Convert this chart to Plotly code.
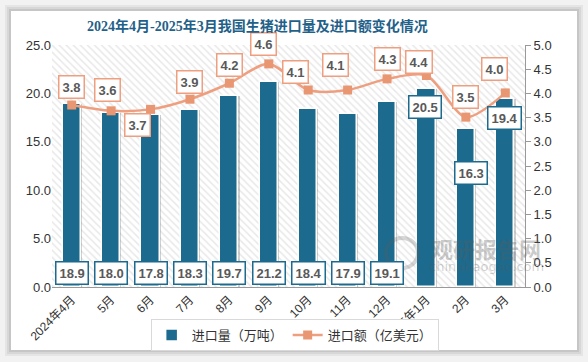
import plotly.graph_objects as go

categories = ["2024年4月", "5月", "6月", "7月", "8月", "9月", "10月", "11月", "12月", "2025年1月", "2月", "3月"]
import_volume = [18.9, 18.0, 17.8, 18.3, 19.7, 21.2, 18.4, 17.9, 19.1, 20.5, 16.3, 19.4]   # 万吨
import_value = [3.76, 3.64, 3.67, 3.88, 4.21, 4.61, 4.07, 4.07, 4.30, 4.37, 3.51, 4.01]    # 亿美元

# label placement tweaks (pixels)
line_lbl_dx = [0, -4, -13, 0, 0, -5, -13, -12, 0, -7, 0, -11]
line_lbl_dy = [18, 21, -16, 17, 18, 20, 18, 25, 20, 13, 20, 24]
bar_lbl_top = [False] * 9 + [True, True, True]
bar_lbl_dy_top = [-18, -44, -19]
bar_lbl_dx_top = [-1, 5, -1]

BAR = "#1C6A8D"
LINE = "#EE9F80"
MARK = "#E99673"
TXT = "#595959"
FONT = "Liberation Sans, Noto Sans CJK SC"

x = list(range(len(categories)))
fig = go.Figure()

# hatched plot background
fig.add_trace(go.Bar(
    x=[(len(categories) - 1) / 2], y=[25], width=[len(categories)],
    marker=dict(color="white", line=dict(width=0),
                pattern=dict(shape="\\", fgcolor="#D2D2D2", bgcolor="white", size=5, solidity=0.3)),
    showlegend=False, hoverinfo="skip"))

# bar shadows
fig.add_trace(go.Bar(
    x=x, y=import_volume, width=0.46, offset=-0.2,
    marker=dict(color="rgba(120,120,120,0.35)", line=dict(width=0)),
    showlegend=False, hoverinfo="skip"))

fig.add_trace(go.Bar(
    x=x, y=import_volume, width=0.46, name="进口量（万吨）",
    marker=dict(color=BAR, line=dict(color="white", width=1.5))))

fig.add_trace(go.Scatter(
    x=x, y=import_value, yaxis="y2", name="进口额（亿美元）",
    mode="lines+markers", line=dict(color=LINE, width=2.5, shape="spline", smoothing=0.8),
    marker=dict(symbol="square", size=9, color=MARK)))

ann = []
for i, v in enumerate(import_value):
    ann.append(dict(x=i, y=v, yref="y2", xref="x", text=f"<b>{v:.1f}</b>", showarrow=False,
                    xshift=line_lbl_dx[i], yshift=line_lbl_dy[i],
                    font=dict(family=FONT, size=13, color=TXT),
                    bgcolor="white", bordercolor=LINE, borderwidth=1.5, borderpad=3))
k = 0
for i, v in enumerate(import_volume):
    if bar_lbl_top[i]:
        y, dy, dx = v, bar_lbl_dy_top[k], bar_lbl_dx_top[k]
        k += 1
    else:
        y, dy, dx = 0, 14, 0
    ann.append(dict(x=i, y=y, xref="x", yref="y", text=f"<b>{v:.1f}</b>", showarrow=False,
                    xshift=dx, yshift=dy,
                    font=dict(family=FONT, size=13, color=TXT),
                    bgcolor="white", bordercolor=BAR, borderwidth=1.5, borderpad=3))

# watermark
ann.append(dict(xref="paper", yref="paper", x=0.918, y=0.163, xanchor="center", yanchor="middle",
                text="<b>观研报告网</b>", showarrow=False,
                font=dict(family="Noto Sans CJK SC", size=22, color="rgba(90,90,90,0.33)")))
ann.append(dict(xref="paper", yref="paper", x=0.918, y=0.083, xanchor="center", yanchor="middle",
                text="chinabaogao.com", showarrow=False,
                font=dict(family="DejaVu Sans", size=13, color="rgba(90,90,90,0.28)")))

# title
ann.append(dict(xref="paper", yref="paper", x=0.4355, y=1.078,
                text="<b>2024年4月-2025年3月我国生猪进口量及进口额变化情况</b>",
                showarrow=False, xanchor="center", yanchor="middle",
                font=dict(family="Liberation Serif, Noto Sans CJK SC", size=14, color="#1F6189")))

# card + shadow
L, R, T, B = 52, 63, 45, 75
W, H = 588 - L - R, 362 - T - B
def px(xp): return (xp - L) / W
def py(yp): return (362 - B - yp) / H
shapes = []
for s, op in [(6, 0.05), (4, 0.06), (2, 0.08)]:
    shapes.append(dict(type="rect", xref="paper", yref="paper", layer="below",
                       x0=px(11 - s), x1=px(577 + s), y0=py(350 + s), y1=py(11 - s),
                       line=dict(width=0), fillcolor=f"rgba(0,0,0,{op})"))
shapes.append(dict(type="rect", xref="paper", yref="paper", layer="below",
                   x0=px(11), x1=px(577), y0=py(350), y1=py(11),
                   line=dict(width=0), fillcolor="white"))
# watermark logo ring
shapes.append(dict(type="circle", xref="paper", yref="paper", layer="above",
                   x0=px(386), x1=px(418), y0=py(268), y1=py(238),
                   line=dict(color="rgba(90,90,90,0.25)", width=4), fillcolor="rgba(0,0,0,0)"))

fig.update_layout(
    width=588, height=362,
    margin=dict(l=L, r=R, t=T, b=B, autoexpand=False),
    paper_bgcolor="#F2F2F2", plot_bgcolor="rgba(0,0,0,0)",
    barmode="overlay", bargap=0,
    font=dict(family=FONT, size=13, color="#333333"),
    xaxis=dict(range=[-0.5, len(categories) - 0.5], tickvals=x, ticktext=categories, tickangle=-45,
               showgrid=False, zeroline=False, showline=True, linecolor="#999999", linewidth=1,
               ticks="", tickfont=dict(size=12, color="#333333"), automargin=False),
    yaxis=dict(range=[0, 25], dtick=5, tickformat=".1f", showgrid=False, zeroline=False,
               showline=False, ticks="", tickfont=dict(size=13), automargin=False),
    yaxis2=dict(range=[0, 5], dtick=0.5, tickformat=".1f", overlaying="y", side="right",
                showgrid=False, zeroline=False, showline=True, linecolor="#999999",
                ticks="outside", ticklen=5, tickcolor="#999999", tickfont=dict(size=13), automargin=False),
    legend=dict(orientation="h", x=0.513, xanchor="center", y=-0.132, yanchor="top",
                bordercolor="#D9D9D9", borderwidth=1, bgcolor="white",
                font=dict(size=13, color="#333333"), itemwidth=30, traceorder="normal"),
    annotations=ann, shapes=shapes,
    showlegend=True,
)

fig.write_html("out.html", config={"displayModeBar": False},
               post_script="document.body.style.margin='0';document.body.style.padding='0';")
